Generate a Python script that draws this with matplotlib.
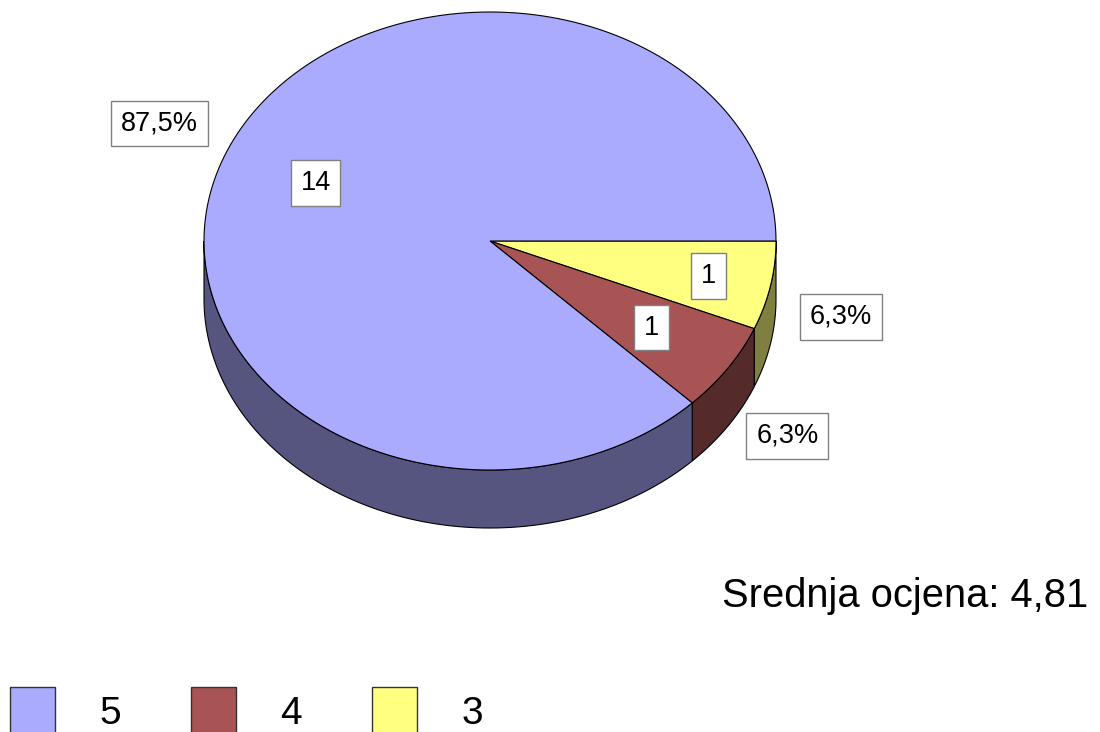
import math
import numpy as np
import matplotlib
matplotlib.use("Agg")
import matplotlib.pyplot as plt
from matplotlib.patches import Polygon, Rectangle

plt.rcParams['font.family'] = ['Liberation Sans', 'DejaVu Sans']

# data
grades = ['5', '4', '3']
counts = [14, 1, 1]
colors = ['#AAAAFF', '#A85454', '#FFFF80']
side_colors = ['#55557F', '#542A2A', '#7F7F40']
title = 'Srednja ocjena'

# pie geometry (pixels)
cx, cy = 490, 241
rx, ry = 286, 229
depth = 58

fig = plt.figure(figsize=(11, 7.32), dpi=100)
ax = fig.add_axes([0, 0, 1, 1])
ax.set_xlim(0, 1100)
ax.set_ylim(732, 0)
ax.axis('off')


def pt(t, r=1.0, dz=0.0):
    return cx + r * rx * np.cos(t), cy + r * ry * np.sin(t) + dz


total = sum(counts)
# slices start at 3 o'clock and go clockwise: last grade first
order = list(range(len(grades)))[::-1]
slices = []
t0 = 0.0
for i in order:
    t1 = t0 + 2 * np.pi * counts[i] / total
    slices.append((i, t0, t1))
    t0 = t1

# side walls (front half only)
for i, a, b in slices:
    lo, hi = max(a, 0), min(b, np.pi)
    if hi <= lo:
        continue
    ts = np.linspace(lo, hi, 100)
    top = np.column_stack(pt(ts))
    bot = np.column_stack(pt(ts[::-1], dz=depth))
    ax.add_patch(Polygon(np.vstack([top, bot]), closed=True, facecolor=side_colors[i],
                         edgecolor='black', linewidth=0.8))

# top face
for i, a, b in slices:
    ts = np.linspace(a, b, 200)
    arc = np.column_stack(pt(ts))
    verts = np.vstack([[cx, cy], arc])
    ax.add_patch(Polygon(verts, closed=True, facecolor=colors[i],
                         edgecolor='black', linewidth=0.8))

box = dict(boxstyle='square,pad=0.36', facecolor='white', edgecolor='#808080', linewidth=1)
inner_r = [0.66, 0.68, 0.78]
for i, a, b in slices:
    m = (a + b) / 2
    x, y = pt(m, r=inner_r[i])
    ax.text(x, y, str(counts[i]), ha='center', va='center', fontsize=19.5, bbox=box)
    pct = math.floor(counts[i] / total * 1000 + 0.5) / 10
    dz = depth * (0.2 + 0.75 * np.sin(m)) if np.sin(m) > 0 else -8
    x, y = pt(m, r=1.25, dz=dz)
    ax.text(x, y, f'{pct:.1f}%'.replace('.', ','), ha='center', va='center',
            fontsize=19.5, bbox=box)

mean = sum(int(g) * c for g, c in zip(grades, counts)) / total
ax.text(1088, 607, f'{title}: {mean:.2f}'.replace('.', ','), ha='right', va='baseline',
        fontsize=28.7)

# legend
for k, g in enumerate(grades):
    x0 = 10 + k * 181
    ax.add_patch(Rectangle((x0, 687), 45, 50, facecolor=colors[k], edgecolor='#333333',
                           linewidth=1))
    ax.text(x0 + 100, 732, g, ha='center', va='bottom', fontsize=28)

fig.savefig('out.png', dpi=100)
